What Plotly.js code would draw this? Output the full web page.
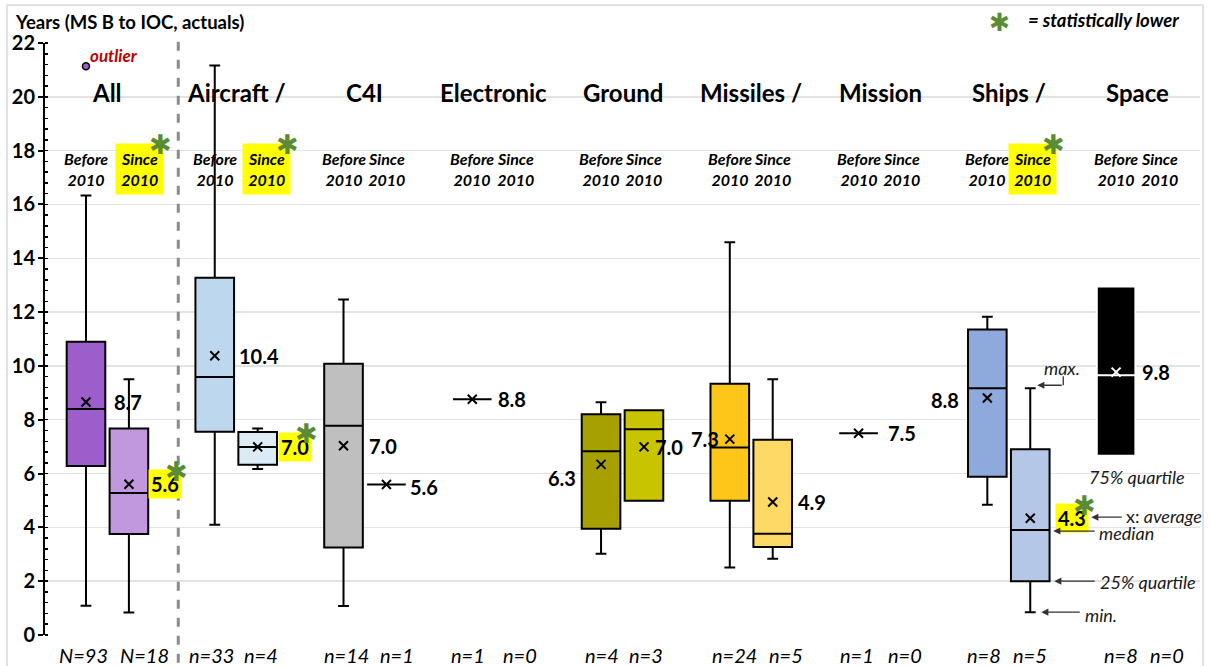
<!DOCTYPE html>
<html><head><meta charset="utf-8">
<script src="https://cdn.plot.ly/plotly-3.0.1.min.js"></script>
<style>html,body{margin:0;padding:0;background:#fff}#chart{width:1211px;height:666px}</style>
</head><body><div id="chart"></div>
<script>
// ---------- data ----------
const groups = ["All", "Aircraft /", "C4I", "Electronic", "Ground", "Missiles /", "Mission", "Ships /", "Space"];
const periods = ["Before<br>2010", "Since<br>2010"];
const nBefore = [93, 33, 14, 1, 4, 24, 1, 8, 8];
const nSince  = [18, 4, 1, 0, 3, 5, 0, 5, 0];
const nPrefix = ["N", "n", "n", "n", "n", "n", "n", "n", "n"];

const minBefore  = [1.09, 4.10, 1.08, 8.76, 3.02, 2.51, 7.50, 4.84, 6.66];
const q1Before   = [6.28, 7.55, 3.25, 8.76, 3.95, 4.99, 7.50, 5.88, 6.66];
const medBefore  = [8.40, 9.59, 7.78, 8.76, 6.83, 6.97, 7.50, 9.17, 9.65];
const q3Before   = [10.90, 13.28, 10.08, 8.76, 8.20, 9.34, 7.50, 11.35, 12.95];
const maxBefore  = [16.33, 21.16, 12.47, 8.76, 8.65, 14.60, 7.50, 11.83, 12.95];
const meanBefore = [8.66, 10.38, 7.03, 8.76, 6.34, 7.28, 7.50, 8.81, 9.77];

const minSince  = [0.84, 6.17, 5.59, null, 4.99, 2.83, null, 0.85, null];
const q1Since   = [3.75, 6.33, 5.59, null, 4.99, 3.27, null, 2.00, null];
const medSince  = [5.28, 6.99, 5.59, null, 7.65, 3.76, null, 3.90, null];
const q3Since   = [7.67, 7.54, 5.59, null, 8.35, 7.26, null, 6.90, null];
const maxSince  = [9.50, 7.67, 5.59, null, 8.35, 9.50, null, 9.17, null];
const meanSince = [5.60, 6.99, 5.59, null, 6.99, 4.94, null, 4.34, null];

const sigLower = [true, true, false, false, false, false, false, true, false];
const outlierGroup = [0];
const outlierValue = [21.14];

// ---------- styles ----------
const FONT = 'Lato, "Liberation Sans", sans-serif';
const fillBefore = ["#9C5ECB", "#BDD7EE", "#BFBFBF", "#000000", "#A6A100", "#FFC61A", "#000000", "#8EA9DB", "#000000"];
const fillSince  = ["#C198DD", "#DDEBF7", "#000000", null, "#C9C400", "#FFD966", null, "#B4C7E7", null];
const lineBefore = ["#000", "#000", "#000", "#000", "#000", "#000", "#000", "#000", "#FFFFFF"];
const markBefore = ["#000", "#000", "#000", "#000", "#000", "#000", "#000", "#000", "#FFFFFF"];
// label offsets [dx px, dy px (down +), anchor]
const labOffB = [[26,0,'left'],[22,0,'left'],[23,0,'left'],[24,0,'left'],[-23,14,'right'],[-9,0,'right'],[27,0,'left'],[-26,2,'right'],[24,0,'left']];
const labOffS = [[19,0,'left'],[20,0,'left'],[22,2,'left'],null,[9,0,'left'],[23,0,'left'],null,[25,0,'left'],null];
const headShiftS = [11, 9, 0, 0, 0, 0, 0, 2, 0];
const nShiftB = [-2, -3, 3, -4, 1, 5, -2, -3, 5];
const nShiftS = [16, 3, 11, 5, 2, 13, 4, 0, 8];
const GREEN = "#5B8C35";

const posB = groups.map((g, i) => 3 * i);
const posS = groups.map((g, i) => 3 * i + 1);

const traces = [];
function addBox(x, lo, q1, med, q3, hi, fill, line) {
  const noWhisk = (lo === q1 && hi === q3);
  traces.push({
    type: 'box', x: [x], lowerfence: [lo], q1: [q1], median: [med], q3: [q3], upperfence: [hi],
    width: 0.9, whiskerwidth: noWhisk ? 0 : 0.28, fillcolor: fill,
    line: { color: line, width: 2 }, boxpoints: false, hoverinfo: 'skip'
  });
}
groups.forEach((g, i) => {
  addBox(posB[i], minBefore[i], q1Before[i], medBefore[i], q3Before[i], maxBefore[i], fillBefore[i], lineBefore[i]);
  if (q1Since[i] !== null) addBox(posS[i], minSince[i], q1Since[i], medSince[i], q3Since[i], maxSince[i], fillSince[i], "#000");
});

// mean markers
const mx = [], my = [], mc = [];
groups.forEach((g, i) => {
  mx.push(posB[i]); my.push(meanBefore[i]); mc.push(markBefore[i]);
  if (meanSince[i] !== null) { mx.push(posS[i]); my.push(meanSince[i]); mc.push("#000"); }
});
traces.push({ type: 'scatter', mode: 'markers', x: mx, y: my, hoverinfo: 'skip',
  marker: { symbol: 'x-thin-open', size: 9, color: mc, line: { width: 2, color: mc } } });

// outlier
traces.push({ type: 'scatter', mode: 'markers', x: outlierGroup.map(i => posB[i]), y: outlierValue, hoverinfo: 'skip',
  marker: { symbol: 'circle', size: 7, color: fillBefore[0], line: { width: 1.5, color: '#000' } } });

// ---------- annotations ----------
const ann = [];
function A(o) { ann.push(Object.assign({ showarrow: false, xref: 'x', yref: 'y' }, o)); }
const f = (size, opts) => Object.assign({ family: FONT, size: size, color: '#000' }, opts || {});

groups.forEach((g, i) => {
  // category title
  A({ x: 3 * i + 0.5, y: 20.16, text: g, font: f(24, { weight: 700 }), xanchor: 'center', yanchor: 'middle' });
  // period headers
  A({ x: posB[i], y: 17.3, text: periods[0], font: f(16, { weight: 700, style: 'italic' }), xanchor: 'center', yanchor: 'middle' });
  const hs = { x: posS[i], y: 17.3, xshift: headShiftS[i], text: periods[1], font: f(16, { weight: 700, style: 'italic' }), xanchor: 'center', yanchor: 'middle' };
  if (sigLower[i]) { hs.bgcolor = '#FFFF00'; hs.borderpad = 5; }
  A(hs);
  if (sigLower[i]) A({ x: posS[i], y: 17.3, xshift: headShiftS[i] + 21, yshift: 26, text: '✱', font: f(27, { color: GREEN }), xanchor: 'center', yanchor: 'middle' });
  // N labels
  A({ x: posB[i], y: -0.0338, yref: 'paper', xshift: nShiftB[i], text: nPrefix[i] + '=' + nBefore[i], font: f(20, { style: 'italic' }), xanchor: 'center', yanchor: 'middle' });
  A({ x: posS[i], y: -0.0338, yref: 'paper', xshift: nShiftS[i], text: nPrefix[i] + '=' + nSince[i], font: f(20, { style: 'italic' }), xanchor: 'center', yanchor: 'middle' });
  // mean value labels
  const ob = labOffB[i];
  A({ x: posB[i], y: meanBefore[i], xshift: ob[0], yshift: -ob[1], xanchor: ob[2], yanchor: 'middle', text: meanBefore[i].toFixed(1), font: f(20, { weight: 700 }) });
  if (meanSince[i] !== null) {
    const os = labOffS[i];
    const o = { x: posS[i], y: meanSince[i], xshift: os[0], yshift: -os[1], xanchor: os[2], yanchor: 'middle', text: meanSince[i].toFixed(1), font: f(20, { weight: 700 }) };
    if (sigLower[i]) { o.bgcolor = '#FFFF00'; o.borderpad = 2; }
    A(o);
    if (sigLower[i]) A({ x: posS[i], y: meanSince[i], xshift: os[0] + 29, yshift: 14, text: '✱', font: f(27, { color: GREEN }), xanchor: 'center', yanchor: 'middle' });
  }
});

// outlier label
A({ x: posB[0], y: outlierValue[0], xshift: 2, yshift: 11, xanchor: 'left', yanchor: 'middle', text: 'outlier', font: f(17, { weight: 700, style: 'italic', color: '#C00000' }) });

// y axis title
A({ xref: 'paper', yref: 'paper', x: -0.0277, y: 1.0355, xanchor: 'left', yanchor: 'middle', text: 'Years (MS B to IOC, actuals)', font: f(18.5, { weight: 700 }) });
// legend
A({ xref: 'paper', yref: 'paper', x: (999 - 45) / 1155, y: (635 - 21) / 592, xanchor: 'center', yanchor: 'middle', text: '✱', font: f(25, { color: GREEN }) });
A({ xref: 'paper', yref: 'paper', x: (1026 - 45) / 1155, y: (635 - 20) / 592, xanchor: 'left', yanchor: 'middle', text: '= statistically lower', font: f(18.5, { weight: 700, style: 'italic' }) });

// key annotations on the Ships "since" box
const k = 7, kx = posS[k];
const kf = f(18, { style: 'italic', color: '#1a1a1a' });
function arrow(y, dx, dy, len) {
  ann.push({ x: kx, y: y, xref: 'x', yref: 'y', xshift: dx, yshift: dy, text: '', showarrow: true,
    arrowhead: 2, arrowsize: 1.1, arrowwidth: 1.3, arrowcolor: '#333', ax: len, ay: 0, standoff: 0, startstandoff: 0 });
}
arrow(maxSince[k], 7, 3, 26);
arrow(meanSince[k], 61, 1, 32);
arrow(medSince[k], 23, -1, 43);
arrow(q1Since[k], 24, 0, 42);
arrow(minSince[k], 11, 0, 40);
A({ x: kx, y: maxSince[k], xshift: 32, yshift: 20, xanchor: 'center', yanchor: 'middle', text: 'max.', font: kf });
A({ x: kx, y: meanSince[k], xshift: 94, yshift: 2, xanchor: 'left', yanchor: 'middle', text: '<span style="font-style:normal">x:</span> average', font: kf });
A({ x: kx, y: medSince[k], xshift: 67, yshift: -3, xanchor: 'left', yanchor: 'middle', text: 'median', font: kf });
A({ x: kx, y: q1Since[k], xshift: 68, yshift: -1, xanchor: 'left', yanchor: 'middle', text: '25% quartile', font: kf });
A({ x: kx, y: minSince[k], xshift: 53, yshift: -3, xanchor: 'left', yanchor: 'middle', text: 'min.', font: kf });
A({ x: kx, y: q3Since[k], xshift: 57, yshift: -28, xanchor: 'left', yanchor: 'middle', text: '75% quartile', font: kf });

const shapes = [
  // outer frame
  { type: 'rect', xref: 'paper', yref: 'paper', x0: (7 - 45) / 1155, x1: (1203 - 45) / 1155, y0: -0.07, y1: (635 - 5) / 592,
    line: { color: '#d9d9d9', width: 1.5 }, fillcolor: 'rgba(0,0,0,0)', layer: 'below' },
  // divider
  { type: 'line', xref: 'x', yref: 'paper', x0: 2.15, x1: 2.15, y0: -0.047, y1: 1.002,
    line: { color: '#8c8c8c', width: 3, dash: 'dash' } },
  // elbow for "max."
  { type: 'line', xref: 'x', yref: 'y', xsizemode: 'pixel', ysizemode: 'pixel', xanchor: kx, yanchor: maxSince[k],
    x0: 33, x1: 33, y0: 3, y1: 12, line: { color: '#333', width: 1.3 } }
];

const layout = {
  width: 1211, height: 666,
  margin: { l: 45, r: 11, t: 43, b: 31 },
  paper_bgcolor: '#fff', plot_bgcolor: '#fff',
  showlegend: false,
  font: { family: FONT },
  xaxis: { range: [-0.955, 25.955], visible: false, fixedrange: true },
  yaxis: {
    range: [0, 22], tick0: 0, dtick: 2, showgrid: true, gridcolor: '#e3e3e3', gridwidth: 1.5,
    zeroline: false, showline: true, linecolor: '#000', linewidth: 2,
    ticks: 'outside', ticklen: 5, tickwidth: 2, tickcolor: '#000', ticklabelstandoff: -1,
    tickfont: { family: FONT, size: 20, weight: 700, color: '#000' },
    minor: { dtick: 0.4, ticks: 'inside', ticklen: 3, tickwidth: 1.5, tickcolor: '#000', showgrid: false },
    fixedrange: true
  },
  annotations: ann,
  shapes: shapes
};

Plotly.newPlot('chart', traces, layout, { displayModeBar: false, staticPlot: true });
</script>
</body></html>
